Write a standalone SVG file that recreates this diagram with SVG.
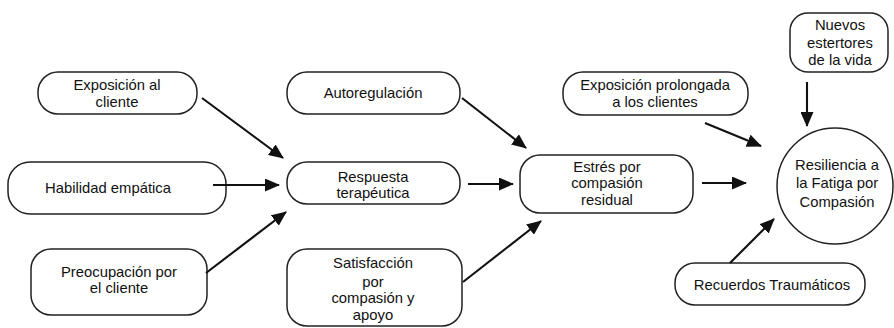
<svg xmlns="http://www.w3.org/2000/svg" width="894" height="328" viewBox="0 0 894 328">
<style>
.box{fill:#fff;stroke:#222;stroke-width:1.5}
text{font-family:"Liberation Sans",Arial,sans-serif;font-size:14.8px;fill:#111;text-anchor:middle}
.c line{stroke:#111;stroke-width:2.1;marker-end:url(#ah)}
</style>
<defs>
<marker id="ah" markerUnits="userSpaceOnUse" markerWidth="15" markerHeight="13" refX="14" refY="6.5" orient="auto">
<path d="M0,0 L15,6.5 L0,13 Z" fill="#111"/>
</marker>
</defs>
<rect width="894" height="328" fill="#fff"/>
<g id="n1"><rect class="box" x="38" y="72" width="159" height="42" rx="20"/><text x="117" y="90">Exposición al</text><text x="117" y="107">cliente</text></g>
<g id="n2"><rect class="box" x="8" y="162" width="218" height="52" rx="22"/><text x="108" y="193">Habilidad empática</text></g>
<g id="n3"><rect class="box" x="31" y="249" width="176" height="66" rx="20"/><text x="119" y="277">Preocupación por</text><text x="119" y="293">el cliente</text></g>
<g id="n4"><rect class="box" x="287" y="72" width="173" height="42" rx="20"/><text x="373" y="98">Autoregulación</text></g>
<g id="n5"><rect class="box" x="287" y="162" width="173" height="42" rx="20"/><text x="373" y="182">Respuesta</text><text x="373" y="198">terapéutica</text></g>
<g id="n6"><rect class="box" x="287" y="249" width="175" height="77" rx="20"/><text x="373" y="268">Satisfacción</text><text x="373" y="287">por</text><text x="373" y="303">compasión y</text><text x="373" y="320">apoyo</text></g>
<g id="n7"><rect class="box" x="520" y="155" width="173" height="58" rx="20"/><text x="607" y="172">Estrés por</text><text x="607" y="188">compasión</text><text x="607" y="205">residual</text></g>
<g id="n8"><rect class="box" x="563" y="72" width="185" height="43" rx="20"/><text x="655" y="90">Exposición prolongada</text><text x="655" y="107">a los clientes</text></g>
<g id="n9"><rect class="box" x="790" y="13" width="98" height="59" rx="18"/><text x="840" y="30">Nuevos</text><text x="840" y="48">estertores</text><text x="840" y="65">de la vida</text></g>
<g id="n10"><circle class="box" cx="835" cy="186" r="58"/><text x="837" y="170">Resiliencia a</text><text x="837" y="188">la Fatiga por</text><text x="837" y="207">Compasión</text></g>
<g id="n11"><rect class="box" x="675" y="263" width="190" height="42" rx="20"/><text x="772" y="290">Recuerdos Traumáticos</text></g>
<g class="c" id="connectors">
<line x1="202" y1="98" x2="283" y2="158"/>
<line x1="213" y1="185" x2="279" y2="185"/>
<line x1="206" y1="273" x2="286" y2="212"/>
<line x1="462" y1="98" x2="526" y2="148"/>
<line x1="468" y1="184" x2="513" y2="184"/>
<line x1="463" y1="282" x2="541" y2="221"/>
<line x1="705" y1="123" x2="761" y2="146"/>
<line x1="702" y1="183" x2="746" y2="183"/>
<line x1="807" y1="82" x2="807" y2="126"/>
<line x1="730" y1="263" x2="774" y2="219"/>
</g>
</svg>
